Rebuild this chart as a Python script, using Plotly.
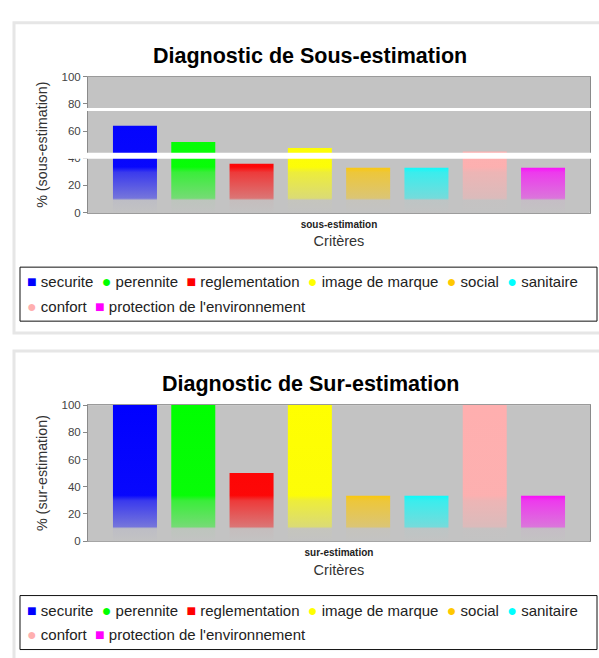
import base64
import plotly.graph_objects as go

# ---- data -------------------------------------------------------------
criteres = ["securite", "perennite", "reglementation", "image de marque",
            "social", "sanitaire", "confort", "protection de l'environnement"]
couleurs = ["#0000ff", "#00ff00", "#ff0000", "#ffff00",
            "#ffc800", "#00ffff", "#ffafaf", "#ff00ff"]
symboles = ["■", "●", "■", "●", "●", "●", "●", "■"]

sous_estimation = [64, 52, 36, 47.5, 33, 33, 45, 33]
sur_estimation = [100, 100, 50, 100, 33.3, 33.3, 100, 33.3]

y_ticks = [0, 20, 40, 60, 80, 100]

W, H = 599, 658
FONT = "Liberation Sans, Arial, sans-serif"
BG = "#c3c3c3"


def xp(px):
    return px / W


def yp(py):
    return 1 - py / H


fig = go.Figure()

# one panel = (values, category label, y title, chart title, pixel offset)
panels = [
    (sous_estimation, "sous-estimation", "% (sous-estimation)",
     "Diagnostic de Sous-estimation", 0),
    (sur_estimation, "sur-estimation", "% (sur-estimation)",
     "Diagnostic de Sur-estimation", 334.5),
]

PLOT_L, PLOT_R = 88, 590
PLOT_T, PLOT_B = 72, 210.5

# vertical fade applied over the bars (gradient paint look)
grad_svg = (
    '<svg xmlns="http://www.w3.org/2000/svg" viewBox="0 0 100 100" '
    'width="100" height="100" preserveAspectRatio="none">'
    '<defs><linearGradient id="g" x1="0" y1="0" x2="0" y2="1">'
    f'<stop offset="0" stop-color="{BG}" stop-opacity="0"/>'
    f'<stop offset="0.66" stop-color="{BG}" stop-opacity="0.04"/>'
    f'<stop offset="0.70" stop-color="{BG}" stop-opacity="0.3"/>'
    f'<stop offset="0.89" stop-color="{BG}" stop-opacity="0.6"/>'
    f'<stop offset="0.905" stop-color="{BG}" stop-opacity="0.97"/>'
    f'<stop offset="1" stop-color="{BG}" stop-opacity="1"/>'
    '</linearGradient></defs>'
    '<rect x="0" y="0" width="100" height="100" fill="url(#g)"/></svg>'
)
grad_src = "data:image/svg+xml;base64," + base64.b64encode(grad_svg.encode()).decode()

shapes, annotations, images = [], [], []

for i, (vals, cat, ytitle, title, off) in enumerate(panels):
    n = "" if i == 0 else str(i + 1)
    xa, ya = "x" + n, "y" + n

    for name, col, v in zip(criteres, couleurs, vals):
        fig.add_trace(go.Bar(
            x=[cat], y=[v], name=name, marker=dict(color=col, line=dict(width=0)),
            xaxis=xa, yaxis=ya, showlegend=False, hovertemplate=f"{name}: %{{y}}<extra></extra>",
        ))

    top, bot = PLOT_T + off, PLOT_B + off
    fig.update_layout(**{
        "xaxis" + n: dict(
            domain=[xp(PLOT_L), xp(PLOT_R)], anchor=ya, type="category",
            range=[-0.5, 0.5], showline=True, mirror=True, linecolor="#9a9a9a",
            linewidth=1, ticks="", ticklabelstandoff=2, showgrid=False,
            tickfont=dict(family=FONT, size=10, color="#222", weight="bold"),
            title=dict(text="Critères", standoff=7,
                       font=dict(family=FONT, size=14.5, color="#333")),
        ),
        "yaxis" + n: dict(
            domain=[yp(bot), yp(top)], anchor=xa, range=[0, 100],
            tickvals=y_ticks, ticks="outside", ticklen=4, tickcolor="#888",
            showline=True, mirror=True, linecolor="#8a8a8a", linewidth=1,
            showgrid=False, zeroline=False,
            tickfont=dict(family=FONT, size=11.5, color="#444"),
            title=dict(text=ytitle, standoff=10,
                       font=dict(family=FONT, size=14.3, color="#333")),
        ),
    })

    images.append(dict(
        source=grad_src, xref="paper", yref="paper",
        x=xp(PLOT_L + 0.5), y=yp(top + 0.5), sizex=xp(PLOT_R - PLOT_L - 1),
        sizey=(bot - top) / H, xanchor="left", yanchor="top",
        sizing="stretch", layer="above",
    ))

    # panel frame
    shapes.append(dict(type="rect", xref="paper", yref="paper",
                       x0=xp(14), x1=xp(W + 10), y0=yp(17 + off + 316), y1=yp(17 + off),
                       line=dict(color="#e6e6e6", width=3), fillcolor="rgba(0,0,0,0)",
                       layer="below"))

    # chart title
    annotations.append(dict(
        text=f"<b>{title}</b>", xref="paper", yref="paper", x=xp(310), y=yp(51 + off),
        xanchor="center", yanchor="middle", showarrow=False,
        font=dict(family=FONT, size=21.5, color="#000"),
    ))

    # legend box and entries
    lt, lb = 266 + off, 321 + off
    shapes.append(dict(type="rect", xref="paper", yref="paper",
                       x0=xp(20), x1=xp(597), y0=yp(lb), y1=yp(lt),
                       line=dict(color="#111", width=1), fillcolor="white"))
    rows = [range(0, 6), range(6, 8)]
    for r, idx in enumerate(rows):
        parts = []
        for k in idx:
            parts.append(f'<span style="color:{couleurs[k]};font-size:16px">{symboles[k]}</span>'
                         f'&nbsp;{criteres[k]}')
        annotations.append(dict(
            text="&nbsp;&nbsp;".join(parts), xref="paper", yref="paper",
            x=xp(25), y=yp(lt + 15 + 25 * r), xanchor="left", yanchor="middle",
            showarrow=False, font=dict(family=FONT, size=15, color="#222"),
        ))

# thin white streaks across the upper chart
for y0, y1 in [(104, 107), (149.5, 155.5)]:
    shapes.append(dict(type="rect", xref="paper", yref="paper",
                       x0=xp(32), x1=xp(W), y0=yp(y1), y1=yp(y0),
                       line=dict(width=0), fillcolor="white", layer="above"))

fig.update_layout(
    width=W, height=H, autosize=False,
    margin=dict(l=0, r=0, t=0, b=0),
    paper_bgcolor="white", plot_bgcolor=BG,
    barmode="group", bargap=0.071, bargroupgap=0.245,
    showlegend=False,
    shapes=shapes, annotations=annotations, images=images,
)

fig.write_html("out.html")
